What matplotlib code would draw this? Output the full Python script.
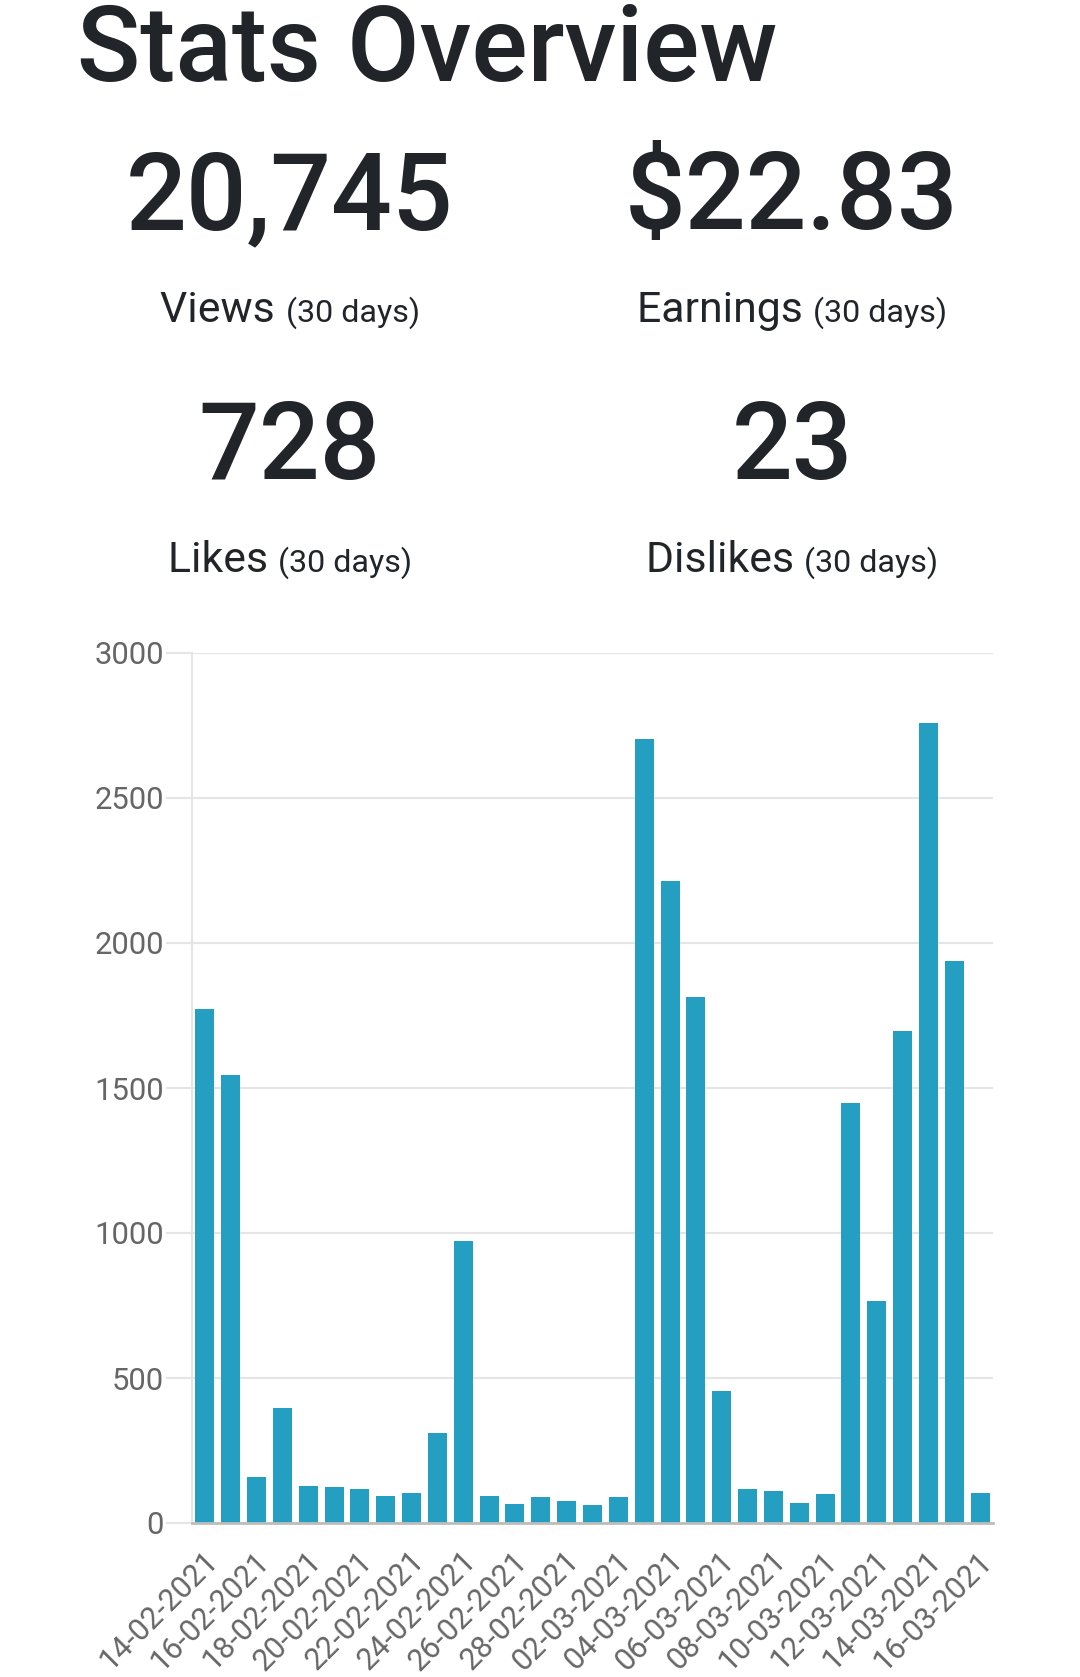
import numpy as np
import matplotlib; matplotlib.use("Agg")
import matplotlib.pyplot as plt
import matplotlib.transforms as mtransforms

plt.rcParams["font.family"] = ["Roboto", "DejaVu Sans"]

# daily views, 14-02-2021 .. 16-03-2021
dates = ["14-02-2021", "15-02-2021", "16-02-2021", "17-02-2021", "18-02-2021",
         "19-02-2021", "20-02-2021", "21-02-2021", "22-02-2021", "23-02-2021",
         "24-02-2021", "25-02-2021", "26-02-2021", "27-02-2021", "28-02-2021",
         "01-03-2021", "02-03-2021", "03-03-2021", "04-03-2021", "05-03-2021",
         "06-03-2021", "07-03-2021", "08-03-2021", "09-03-2021", "10-03-2021",
         "11-03-2021", "12-03-2021", "13-03-2021", "14-03-2021", "15-03-2021",
         "16-03-2021"]
views = [1771, 1544, 160, 395, 128, 124, 118, 92, 102, 310,
         972, 93, 65, 90, 76, 61, 88, 2702, 2214, 1814,
         455, 118, 111, 70, 100, 1449, 765, 1696, 2760, 1938,
         105]
yticks = [0, 500, 1000, 1500, 2000, 2500, 3000]

stat_values = ["20,745", "$22.83", "728", "23"]
stat_names = ["Views", "Earnings", "Likes", "Dislikes"]
period = "(30 days)"

W, H = 1080, 1677
DARK = "#212529"
GREY = "#666666"
GRID = "#e5e5e5"
BAR = "#259fc1"

fig = plt.figure(figsize=(W / 100, H / 100), dpi=100)
fig.patch.set_facecolor("white")

def fx(x): return x / W
def fy(y): return 1 - y / H

fig.text(fx(77), fy(81), "Stats Overview", fontsize=75.5, fontweight="medium",
         color=DARK, ha="left", va="baseline")

renderer = fig.canvas.get_renderer()
cols = [290, 792]
val_base = [229, 479]
lab_base = [322, 572]
for k in range(4):
    cx = cols[k % 2]
    r = k // 2
    fig.text(fx(cx), fy(val_base[r]), stat_values[k], fontsize=77,
             fontweight="medium", color=DARK, ha="center", va="baseline")
    t1 = fig.text(0, fy(lab_base[r]), stat_names[k] + " ", fontsize=30.8,
                  color=DARK, ha="left", va="baseline")
    t2 = fig.text(0, fy(lab_base[r]), period, fontsize=23.2,
                  color=DARK, ha="left", va="baseline")
    w1 = t1.get_window_extent(renderer).width
    w2 = t2.get_window_extent(renderer).width
    x0 = cx - (w1 + w2) / 2
    t1.set_x(fx(x0))
    t2.set_x(fx(x0 + w1))

# bar chart
ax = fig.add_axes([fx(192), fy(1523), fx(993) - fx(192), fy(653) - fy(1523)])
x = np.arange(len(views))
ax.bar(x, views, width=0.735, color=BAR, zorder=2)
ax.set_xlim(-0.5, len(views) - 0.5)
ax.set_ylim(0, 3000)
ax.set_yticks(yticks)
ax.set_yticklabels([str(v) for v in yticks])
ax.set_xticks(x[::2])
ax.set_xticklabels(dates[::2], rotation=45, ha="right", va="center",
                   rotation_mode="anchor")
ax.yaxis.grid(True, color=GRID, lw=1.5, zorder=0)
ax.set_axisbelow(True)
for s in ["top", "right"]:
    ax.spines[s].set_visible(False)
ax.spines["left"].set_color(GRID)
ax.spines["left"].set_linewidth(1.5)
ax.spines["bottom"].set_color("#bdbdbd")
ax.spines["bottom"].set_linewidth(2)
ax.spines["bottom"].set_zorder(3)
ax.tick_params(axis="y", length=18.7, width=1.5, color=GRID, pad=1.5,
               labelsize=22.3, labelcolor=GREY)
ax.tick_params(axis="x", length=0, pad=24, labelsize=22, labelcolor=GREY)
ax.yaxis.get_major_ticks()[0].tick1line.set_color("#bdbdbd")
off = mtransforms.ScaledTranslation(8 / 100, 0, fig.dpi_scale_trans)
for lab in ax.get_xticklabels():
    lab.set_transform(lab.get_transform() + off)

fig.savefig("out.png", dpi=100, facecolor="white")
